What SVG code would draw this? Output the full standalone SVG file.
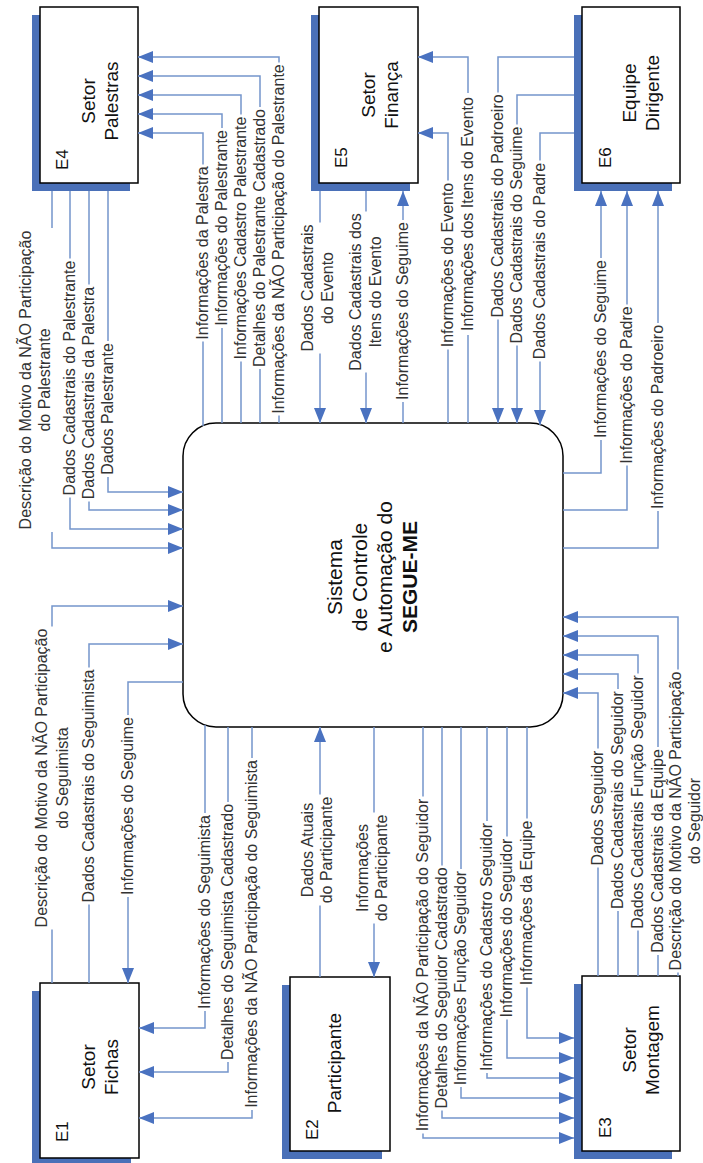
<svg xmlns="http://www.w3.org/2000/svg" width="703" height="1163" viewBox="0 0 703 1163">
<style>
.sh{fill:#4a70b8}
.bx{fill:#fff;stroke:#000;stroke-width:1.5}
.ln{fill:none;stroke:#7495cc;stroke-width:1.5}
.ar{marker-end:url(#ah)}
.bg{fill:#fff}
.t{font-family:"Liberation Sans",Arial,sans-serif;font-size:16px;fill:#333;text-anchor:middle}
.nl{font-family:"Liberation Sans",Arial,sans-serif;font-size:19px;fill:#111;text-anchor:middle}
.el{font-family:"Liberation Sans",Arial,sans-serif;font-size:17px;fill:#111}
.ct{font-family:"Liberation Sans",Arial,sans-serif;font-size:21px;fill:#111;text-anchor:middle}
</style>
<defs>
<marker id="ah" viewBox="0 0 15 12" refX="15" refY="6" markerWidth="15" markerHeight="12" markerUnits="userSpaceOnUse" orient="auto"><path d="M0,0 L15,6 L0,12 z" fill="#4a72c0"/></marker>
</defs>
<rect width="703" height="1163" fill="#fff"/>

<g id="central">
<rect class="bx" x="183" y="423" width="380" height="304" rx="33"/>
<text class="ct" transform="translate(342,577) rotate(-90)">Sistema</text>
<text class="ct" transform="translate(367,577) rotate(-90)">de Controle</text>
<text class="ct" transform="translate(392,577) rotate(-90)">e Automação do</text>
<text class="ct" transform="translate(417,577) rotate(-90)" font-weight="bold">SEGUE-ME</text>
</g>

<g id="E4">
<rect class="sh" x="32" y="15" width="98" height="176"/>
<rect class="bx" x="40" y="7" width="98" height="176"/>
<text class="el" transform="translate(68,170) rotate(-90)">E4</text>
<text class="nl" transform="translate(95,101) rotate(-90)">Setor</text>
<text class="nl" transform="translate(118,101) rotate(-90)">Palestras</text>
</g>
<g id="E5">
<rect class="sh" x="311" y="15" width="99" height="176"/>
<rect class="bx" x="319" y="7" width="99" height="176"/>
<text class="el" transform="translate(347,168) rotate(-90)">E5</text>
<text class="nl" transform="translate(375,95) rotate(-90)">Setor</text>
<text class="nl" transform="translate(398,95) rotate(-90)">Finança</text>
</g>
<g id="E6">
<rect class="sh" x="574" y="15" width="98" height="176"/>
<rect class="bx" x="582" y="7" width="98" height="176"/>
<text class="el" transform="translate(611,168) rotate(-90)">E6</text>
<text class="nl" transform="translate(636,93) rotate(-90)">Equipe</text>
<text class="nl" transform="translate(659,93) rotate(-90)">Dirigente</text>
</g>
<g id="E1">
<rect class="sh" x="32" y="991" width="99" height="175"/>
<rect class="bx" x="40" y="983" width="99" height="175"/>
<text class="el" transform="translate(68,1142) rotate(-90)">E1</text>
<text class="nl" transform="translate(95,1067) rotate(-90)">Setor</text>
<text class="nl" transform="translate(118,1067) rotate(-90)">Fichas</text>
</g>
<g id="E2">
<rect class="sh" x="282" y="985" width="100" height="174"/>
<rect class="bx" x="290" y="977" width="100" height="174"/>
<text class="el" transform="translate(318,1140) rotate(-90)">E2</text>
<text class="nl" transform="translate(341,1063) rotate(-90)">Participante</text>
</g>
<g id="E3">
<rect class="sh" x="574" y="984" width="98" height="175"/>
<rect class="bx" x="582" y="976" width="98" height="175"/>
<text class="el" transform="translate(611,1138) rotate(-90)">E3</text>
<text class="nl" transform="translate(636,1050) rotate(-90)">Setor</text>
<text class="nl" transform="translate(659,1050) rotate(-90)">Montagem</text>
</g>

<g id="connectors">
<path class="ln ar" d="M52,191 V548 H183"/>
<path class="ln ar" d="M70,191 V529 H183"/>
<path class="ln ar" d="M89,191 V510 H183"/>
<path class="ln ar" d="M108,191 V492 H183"/>
<path class="ln ar" d="M203,426 V133 H138"/>
<path class="ln ar" d="M222,423 V114 H138"/>
<path class="ln ar" d="M241,423 V95 H138"/>
<path class="ln ar" d="M260,423 V76 H138"/>
<path class="ln ar" d="M279,423 V57 H138"/>
<path class="ln ar" d="M320,191 V423"/>
<path class="ln ar" d="M366,191 V423"/>
<path class="ln ar" d="M403,423 V191"/>
<path class="ln ar" d="M448,423 V133 H418"/>
<path class="ln ar" d="M468,423 V57 H418"/>
<path class="ln ar" d="M574,57 H498 V423"/>
<path class="ln ar" d="M574,95 H517 V423"/>
<path class="ln ar" d="M574,133 H540 V425"/>
<path class="ln ar" d="M563,473 H601 V191"/>
<path class="ln ar" d="M563,510 H627 V191"/>
<path class="ln ar" d="M563,548 H658 V191"/>
<path class="ln ar" d="M52,983 V606 H183"/>
<path class="ln ar" d="M89,983 V644 H183"/>
<path class="ln ar" d="M183,682 H128 V983"/>
<path class="ln ar" d="M205,725 V1028 H139"/>
<path class="ln ar" d="M228,727 V1072 H139"/>
<path class="ln ar" d="M252,727 V1118 H139"/>
<path class="ln ar" d="M320,977 V727"/>
<path class="ln ar" d="M374,727 V977"/>
<path class="ln ar" d="M423,727 V1138 H574"/>
<path class="ln ar" d="M442,727 V1118 H574"/>
<path class="ln ar" d="M461,727 V1098 H574"/>
<path class="ln ar" d="M487,727 V1078 H574"/>
<path class="ln ar" d="M507,727 V1058 H574"/>
<path class="ln ar" d="M527,727 V1038 H574"/>
<path class="ln ar" d="M598,976 V693 H563"/>
<path class="ln ar" d="M618,976 V674 H563"/>
<path class="ln ar" d="M638,976 V655 H563"/>
<path class="ln ar" d="M658,976 V636 H563"/>
<path class="ln ar" d="M678,976 V617 H563"/>
</g>

<g id="labels">
<g transform="translate(52,380) rotate(-90)"><rect class="bg" x="-152" y="-36" width="304" height="40"/><text class="t" y="-21">Descrição do Motivo da NÃO Participação</text><text class="t" y="-2">do Palestrante</text></g>
<g transform="translate(70,378) rotate(-90)"><rect class="bg" x="-119.5" y="-8" width="239" height="16"/><text class="t" y="5">Dados Cadastrais do Palestrante</text></g>
<g transform="translate(89,393) rotate(-90)"><rect class="bg" x="-108.5" y="-8" width="217" height="16"/><text class="t" y="5">Dados Cadastrais da Palestra</text></g>
<g transform="translate(108,409) rotate(-90)"><rect class="bg" x="-68" y="-8" width="136" height="16"/><text class="t" y="5">Dados Palestrante</text></g>
<g transform="translate(203,253) rotate(-90)"><rect class="bg" x="-88.5" y="-8" width="177" height="16"/><text class="t" y="5">Informações da Palestra</text></g>
<g transform="translate(222,228) rotate(-90)"><rect class="bg" x="-100" y="-8" width="200" height="16"/><text class="t" y="5">Informações do Palestrante</text></g>
<g transform="translate(241,238) rotate(-90)"><rect class="bg" x="-123.5" y="-8" width="247" height="16"/><text class="t" y="5">Informações Cadastro Palestrante</text></g>
<g transform="translate(260,238) rotate(-90)"><rect class="bg" x="-131" y="-8" width="262" height="16"/><text class="t" y="5">Detalhes do Palestrante Cadastrado</text></g>
<g transform="translate(279,239) rotate(-90)"><rect class="bg" x="-176.5" y="-8" width="353" height="16"/><text class="t" y="5">Informações da NÃO Participação do Palestrante</text></g>
<g transform="translate(320,288) rotate(-90)"><rect class="bg" x="-65.5" y="-22" width="131" height="39"/><text class="t" y="-7">Dados Cadastrais</text><text class="t" y="13">do Evento</text></g>
<g transform="translate(366,292) rotate(-90)"><rect class="bg" x="-80.5" y="-20" width="161" height="38"/><text class="t" y="-5">Dados Cadastrais dos</text><text class="t" y="15">Itens do Evento</text></g>
<g transform="translate(403,311) rotate(-90)"><rect class="bg" x="-91" y="-8" width="182" height="16"/><text class="t" y="5">Informações do Seguime</text></g>
<g transform="translate(448,265) rotate(-90)"><rect class="bg" x="-84.5" y="-8" width="169" height="16"/><text class="t" y="5">Informações do Evento</text></g>
<g transform="translate(468,214) rotate(-90)"><rect class="bg" x="-121" y="-8" width="242" height="16"/><text class="t" y="5">Informações dos Itens do Evento</text></g>
<g transform="translate(498,206) rotate(-90)"><rect class="bg" x="-113.5" y="-8" width="227" height="16"/><text class="t" y="5">Dados Cadastrais do Padroeiro</text></g>
<g transform="translate(517,235) rotate(-90)"><rect class="bg" x="-110.5" y="-8" width="221" height="16"/><text class="t" y="5">Dados Cadastrais do Seguime</text></g>
<g transform="translate(540,261) rotate(-90)"><rect class="bg" x="-100.5" y="-8" width="201" height="16"/><text class="t" y="5">Dados Cadastrais do Padre</text></g>
<g transform="translate(601,349) rotate(-90)"><rect class="bg" x="-91" y="-8" width="182" height="16"/><text class="t" y="5">Informações do Seguime</text></g>
<g transform="translate(627,385) rotate(-90)"><rect class="bg" x="-80.5" y="-8" width="161" height="16"/><text class="t" y="5">Informações do Padre</text></g>
<g transform="translate(658,417) rotate(-90)"><rect class="bg" x="-94" y="-8" width="188" height="16"/><text class="t" y="5">Informações do Padroeiro</text></g>
<g transform="translate(52,778) rotate(-90)"><rect class="bg" x="-151.5" y="-20" width="303" height="39"/><text class="t" y="-5">Descrição do Motivo da NÃO Participação</text><text class="t" y="16">do Seguimista</text></g>
<g transform="translate(89,786) rotate(-90)"><rect class="bg" x="-118.5" y="-8" width="237" height="16"/><text class="t" y="5">Dados Cadastrais do Seguimista</text></g>
<g transform="translate(128,806) rotate(-90)"><rect class="bg" x="-91" y="-8" width="182" height="16"/><text class="t" y="5">Informações do Seguime</text></g>
<g transform="translate(205,912) rotate(-90)"><rect class="bg" x="-99" y="-8" width="198" height="16"/><text class="t" y="5">Informações do Seguimista</text></g>
<g transform="translate(228,932) rotate(-90)"><rect class="bg" x="-130" y="-8" width="260" height="16"/><text class="t" y="5">Detalhes do Seguimista Cadastrado</text></g>
<g transform="translate(252,934) rotate(-90)"><rect class="bg" x="-176" y="-8" width="352" height="16"/><text class="t" y="5">Informações da NÃO Participação do Seguimista</text></g>
<g transform="translate(320,850) rotate(-90)"><rect class="bg" x="-55.5" y="-22" width="111" height="38"/><text class="t" y="-7">Dados Atuais</text><text class="t" y="12">do Participante</text></g>
<g transform="translate(374,868) rotate(-90)"><rect class="bg" x="-55.5" y="-21" width="111" height="38"/><text class="t" y="-6">Informações</text><text class="t" y="13">do Participante</text></g>
<g transform="translate(423,965) rotate(-90)"><rect class="bg" x="-168.5" y="-8" width="337" height="16"/><text class="t" y="5">Informações da NÃO Participação do Seguidor</text></g>
<g transform="translate(442,988) rotate(-90)"><rect class="bg" x="-122.5" y="-8" width="245" height="16"/><text class="t" y="5">Detalhes do Seguidor Cadastrado</text></g>
<g transform="translate(461,978) rotate(-90)"><rect class="bg" x="-109" y="-8" width="218" height="16"/><text class="t" y="5">Informações Função Seguidor</text></g>
<g transform="translate(487,947) rotate(-90)"><rect class="bg" x="-126" y="-8" width="252" height="16"/><text class="t" y="5">Informações do Cadastro Seguidor</text></g>
<g transform="translate(507,928) rotate(-90)"><rect class="bg" x="-91.5" y="-8" width="183" height="16"/><text class="t" y="5">Informações do Seguidor</text></g>
<g transform="translate(527,903) rotate(-90)"><rect class="bg" x="-84.5" y="-8" width="169" height="16"/><text class="t" y="5">Informações da Equipe</text></g>
<g transform="translate(598,808) rotate(-90)"><rect class="bg" x="-59.5" y="-8" width="119" height="16"/><text class="t" y="5">Dados Seguidor</text></g>
<g transform="translate(618,800) rotate(-90)"><rect class="bg" x="-111" y="-8" width="222" height="16"/><text class="t" y="5">Dados Cadastrais do Seguidor</text></g>
<g transform="translate(638,802) rotate(-90)"><rect class="bg" x="-128.5" y="-8" width="257" height="16"/><text class="t" y="5">Dados Cadastrais Função Seguidor</text></g>
<g transform="translate(658,851) rotate(-90)"><rect class="bg" x="-104" y="-8" width="208" height="16"/><text class="t" y="5">Dados Cadastrais da Equipe</text></g>
<g transform="translate(678,821) rotate(-90)"><rect class="bg" x="-151.5" y="-12" width="303" height="38"/><text class="t" y="3">Descrição do Motivo da NÃO Participação</text><text class="t" y="22">do Seguidor</text></g>
</g>
</svg>
